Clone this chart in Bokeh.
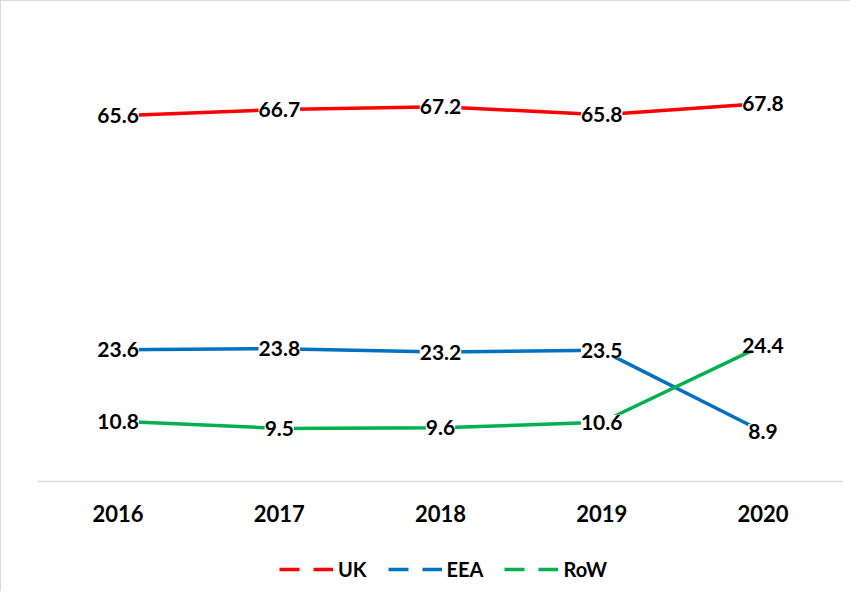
from bokeh.plotting import figure
from bokeh.models import ColumnDataSource, LabelSet, Legend, LegendItem, Range1d
from bokeh.core.properties import value
from bokeh.embed import file_html
from bokeh.resources import INLINE

years = ["2016", "2017", "2018", "2019", "2020"]
uk = [65.6, 66.7, 67.2, 65.8, 67.8]
eea = [23.6, 23.8, 23.2, 23.5, 8.9]
row = [10.8, 9.5, 9.6, 10.6, 24.4]
series_names = ["UK", "EEA", "RoW"]
colors = ["#FF0000", "#0070C0", "#00B050"]

FONT = "Lato"

p = figure(x_range=years, y_range=Range1d(-19.95, 80), width=850, height=591,
           output_backend="svg", toolbar_location=None,
           min_border_left=36, min_border_right=8, min_border_top=34, min_border_bottom=0,
           border_fill_color="white")
p.styles = {"border-left": "1px solid #d9d9d9", "border-top": "1px solid #d9d9d9"}
p.outline_line_color = None
p.xgrid.grid_line_color = None
p.ygrid.grid_line_color = None
p.yaxis.visible = False
p.xaxis.fixed_location = 0
p.xaxis.axis_line_color = "#d9d9d9"
p.xaxis.axis_line_width = 1.5
p.xaxis.major_tick_line_color = None
p.xaxis.minor_tick_line_color = None
p.xaxis.major_tick_out = 0
p.xaxis.major_tick_in = 0
p.xaxis.major_label_standoff = 24
p.xaxis.major_label_text_font = FONT
p.xaxis.major_label_text_font_style = "bold"
p.xaxis.major_label_text_font_size = "22px"
p.xaxis.major_label_text_color = "black"
p.x_range.range_padding = 0

items = []
for name, vals, col in zip(series_names, [uk, eea, row], colors):
    src = ColumnDataSource(dict(x=years, y=vals, t=[f"{v:.1f}" for v in vals]))
    p.line("x", "y", source=src, line_color=col, line_width=3.5)
    dummy = p.line("x", "y", source=src, line_color=col, line_width=3.5,
                   line_dash="20 14")
    dummy.visible = False
    items.append(LegendItem(label=name, renderers=[dummy]))
    labels = LabelSet(x="x", y="y", text="t", source=src, text_align="center",
                      text_baseline="middle", text_font=value(FONT),
                      text_font_style="bold", text_font_size="21px",
                      text_color="black", background_fill_color="white")
    p.add_layout(labels)

legend = Legend(items=items, orientation="horizontal", location=(242, 11),
                glyph_width=54, glyph_height=20, label_standoff=5, spacing=21,
                padding=0, margin=0, border_line_color=None,
                background_fill_alpha=0, click_policy="none",
                label_text_font=FONT, label_text_font_style="bold",
                label_text_font_size="20px", label_text_color="black")
p.add_layout(legend)

open("out.html", "w").write(file_html(p, INLINE))
